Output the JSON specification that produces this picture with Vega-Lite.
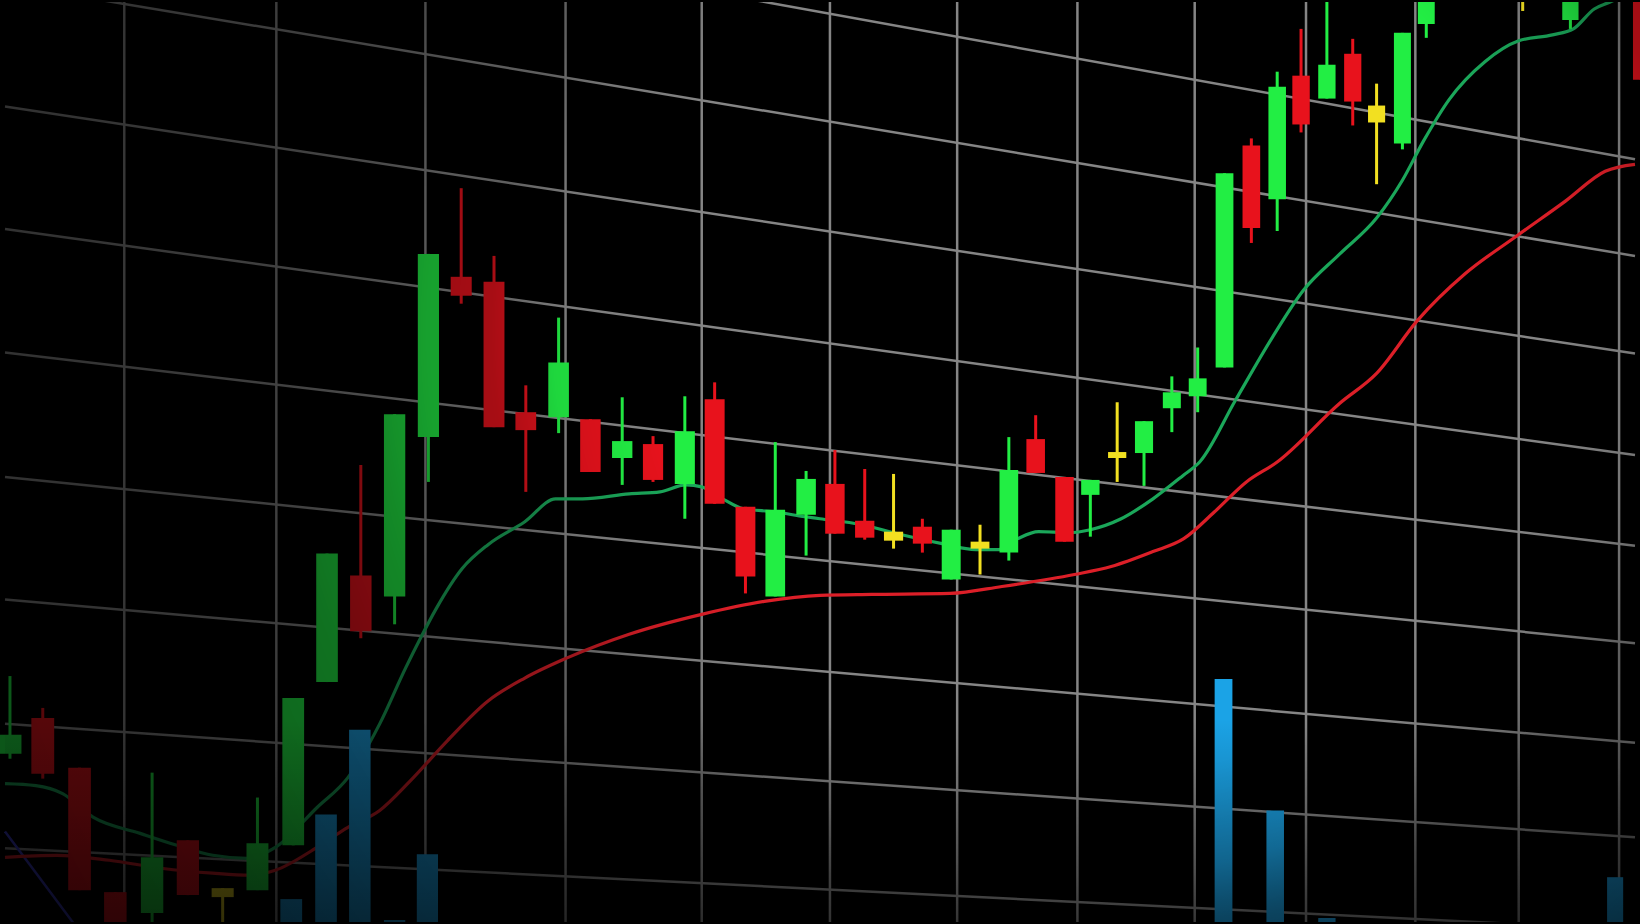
{
  "$schema": "https://vega.github.io/schema/vega-lite/v6.json",
  "width": 1640,
  "height": 924,
  "autosize": {"type": "fit", "contains": "padding"},
  "padding": 0,
  "background": "#000000",
  "config": {"view": {"stroke": null}},
  "datasets": {
    "gridv": [{"x": 120}, {"x": 273}, {"x": 423}, {"x": 564}, {"x": 701}, {"x": 830}, {"x": 958}, {"x": 1079}, {"x": 1197}, {"x": 1309}, {"x": 1419}, {"x": 1523}, {"x": 1624}],
    "gridh": [
      {"x1": 0, "x2": 1640, "y1": 1062, "y2": 766},
      {"x1": 0, "x2": 1640, "y1": 942, "y2": 669},
      {"x1": 0, "x2": 1640, "y1": 819, "y2": 571},
      {"x1": 0, "x2": 1640, "y1": 696, "y2": 469},
      {"x1": 0, "x2": 1640, "y1": 572, "y2": 378},
      {"x1": 0, "x2": 1640, "y1": 447, "y2": 280},
      {"x1": 0, "x2": 1640, "y1": 324, "y2": 180},
      {"x1": 0, "x2": 1640, "y1": 199, "y2": 85},
      {"x1": 0, "x2": 1640, "y1": 74, "y2": -8}
    ],
    "ma": [
      {"s": "fast", "t": 0, "v": 139}, {"s": "fast", "t": 31, "v": 137}, {"s": "fast", "t": 58, "v": 129}, {"s": "fast", "t": 89, "v": 105}, {"s": "fast", "t": 136, "v": 89}, {"s": "fast", "t": 173, "v": 77}, {"s": "fast", "t": 209, "v": 67}, {"s": "fast", "t": 243, "v": 64}, {"s": "fast", "t": 272, "v": 75}, {"s": "fast", "t": 314, "v": 115}, {"s": "fast", "t": 345, "v": 145}, {"s": "fast", "t": 377, "v": 199}, {"s": "fast", "t": 403, "v": 255}, {"s": "fast", "t": 418, "v": 285}, {"s": "fast", "t": 434, "v": 315}, {"s": "fast", "t": 460, "v": 355}, {"s": "fast", "t": 486, "v": 379}, {"s": "fast", "t": 523, "v": 402}, {"s": "fast", "t": 554, "v": 425}, {"s": "fast", "t": 581, "v": 425}, {"s": "fast", "t": 628, "v": 430}, {"s": "fast", "t": 659, "v": 432}, {"s": "fast", "t": 685, "v": 439}, {"s": "fast", "t": 701, "v": 437}, {"s": "fast", "t": 722, "v": 425}, {"s": "fast", "t": 743, "v": 415}, {"s": "fast", "t": 774, "v": 412}, {"s": "fast", "t": 805, "v": 407}, {"s": "fast", "t": 820, "v": 405}, {"s": "fast", "t": 862, "v": 399}, {"s": "fast", "t": 898, "v": 390}, {"s": "fast", "t": 943, "v": 380}, {"s": "fast", "t": 977, "v": 374}, {"s": "fast", "t": 1000, "v": 374}, {"s": "fast", "t": 1019, "v": 385}, {"s": "fast", "t": 1040, "v": 392}, {"s": "fast", "t": 1071, "v": 391}, {"s": "fast", "t": 1092, "v": 394}, {"s": "fast", "t": 1123, "v": 405}, {"s": "fast", "t": 1155, "v": 425}, {"s": "fast", "t": 1186, "v": 449}, {"s": "fast", "t": 1202, "v": 462}, {"s": "fast", "t": 1238, "v": 524}, {"s": "fast", "t": 1275, "v": 587}, {"s": "fast", "t": 1306, "v": 634}, {"s": "fast", "t": 1343, "v": 671}, {"s": "fast", "t": 1380, "v": 707}, {"s": "fast", "t": 1406, "v": 745}, {"s": "fast", "t": 1427, "v": 784}, {"s": "fast", "t": 1453, "v": 826}, {"s": "fast", "t": 1489, "v": 864}, {"s": "fast", "t": 1523, "v": 885}, {"s": "fast", "t": 1557, "v": 891}, {"s": "fast", "t": 1578, "v": 897}, {"s": "fast", "t": 1599, "v": 917}, {"s": "fast", "t": 1615, "v": 924}, {"s": "fast", "t": 1640, "v": 936},
      {"s": "slow", "t": 0, "v": 65}, {"s": "slow", "t": 52, "v": 67}, {"s": "slow", "t": 105, "v": 62}, {"s": "slow", "t": 157, "v": 54}, {"s": "slow", "t": 209, "v": 49}, {"s": "slow", "t": 246, "v": 47}, {"s": "slow", "t": 272, "v": 52}, {"s": "slow", "t": 314, "v": 75}, {"s": "slow", "t": 345, "v": 95}, {"s": "slow", "t": 377, "v": 112}, {"s": "slow", "t": 408, "v": 142}, {"s": "slow", "t": 445, "v": 182}, {"s": "slow", "t": 486, "v": 222}, {"s": "slow", "t": 523, "v": 245}, {"s": "slow", "t": 565, "v": 265}, {"s": "slow", "t": 628, "v": 289}, {"s": "slow", "t": 701, "v": 309}, {"s": "slow", "t": 764, "v": 322}, {"s": "slow", "t": 820, "v": 328}, {"s": "slow", "t": 872, "v": 329}, {"s": "slow", "t": 951, "v": 330}, {"s": "slow", "t": 1003, "v": 337}, {"s": "slow", "t": 1076, "v": 349}, {"s": "slow", "t": 1113, "v": 357}, {"s": "slow", "t": 1155, "v": 372}, {"s": "slow", "t": 1186, "v": 385}, {"s": "slow", "t": 1217, "v": 412}, {"s": "slow", "t": 1249, "v": 442}, {"s": "slow", "t": 1280, "v": 462}, {"s": "slow", "t": 1343, "v": 521}, {"s": "slow", "t": 1380, "v": 551}, {"s": "slow", "t": 1421, "v": 604}, {"s": "slow", "t": 1469, "v": 651}, {"s": "slow", "t": 1521, "v": 689}, {"s": "slow", "t": 1570, "v": 724}, {"s": "slow", "t": 1610, "v": 754}, {"s": "slow", "t": 1640, "v": 761},
      {"s": "aux", "t": 0, "v": 91}, {"s": "aux", "t": 68, "v": 0}, {"s": "aux", "t": 90, "v": -30}
    ],
    "volume": [
      {"t": 288, "vol": 23}, {"t": 323, "vol": 108}, {"t": 357, "vol": 193}, {"t": 392, "vol": 2}, {"t": 425, "vol": 68},
      {"t": 1226, "vol": 244}, {"t": 1278, "vol": 112}, {"t": 1330, "vol": 4}, {"t": 1620, "vol": 45}
    ],
    "candles": [
      {"t": 5, "open": 169, "close": 188, "high": 247, "low": 164, "kind": "up"},
      {"t": 38, "open": 205, "close": 149, "high": 215, "low": 144, "kind": "down"},
      {"t": 75, "open": 155, "close": 32, "high": 155, "low": 32, "kind": "down"},
      {"t": 111, "open": 30, "close": -11, "high": 30, "low": -11, "kind": "down"},
      {"t": 148, "open": 9, "close": 65, "high": 150, "low": -11, "kind": "up"},
      {"t": 184, "open": 82, "close": 27, "high": 82, "low": 27, "kind": "down"},
      {"t": 219, "open": 34, "close": 25, "high": 34, "low": -11, "kind": "doji"},
      {"t": 254, "open": 32, "close": 79, "high": 125, "low": 32, "kind": "up"},
      {"t": 290, "open": 77, "close": 225, "high": 225, "low": 77, "kind": "up"},
      {"t": 324, "open": 241, "close": 370, "high": 370, "low": 241, "kind": "up"},
      {"t": 358, "open": 348, "close": 292, "high": 459, "low": 285, "kind": "down"},
      {"t": 392, "open": 327, "close": 510, "high": 510, "low": 299, "kind": "up"},
      {"t": 426, "open": 487, "close": 671, "high": 671, "low": 442, "kind": "up"},
      {"t": 459, "open": 648, "close": 629, "high": 737, "low": 621, "kind": "down"},
      {"t": 492, "open": 643, "close": 497, "high": 669, "low": 497, "kind": "down"},
      {"t": 524, "open": 512, "close": 494, "high": 539, "low": 432, "kind": "down"},
      {"t": 557, "open": 507, "close": 562, "high": 607, "low": 491, "kind": "up"},
      {"t": 589, "open": 505, "close": 452, "high": 505, "low": 452, "kind": "down"},
      {"t": 621, "open": 466, "close": 483, "high": 527, "low": 439, "kind": "up"},
      {"t": 652, "open": 480, "close": 444, "high": 488, "low": 442, "kind": "down"},
      {"t": 684, "open": 440, "close": 493, "high": 528, "low": 405, "kind": "up"},
      {"t": 714, "open": 525, "close": 420, "high": 542, "low": 420, "kind": "down"},
      {"t": 745, "open": 417, "close": 347, "high": 417, "low": 330, "kind": "down"},
      {"t": 775, "open": 327, "close": 414, "high": 482, "low": 327, "kind": "up"},
      {"t": 806, "open": 409, "close": 445, "high": 453, "low": 368, "kind": "up"},
      {"t": 835, "open": 440, "close": 390, "high": 474, "low": 390, "kind": "down"},
      {"t": 865, "open": 403, "close": 386, "high": 455, "low": 384, "kind": "down"},
      {"t": 894, "open": 392, "close": 383, "high": 450, "low": 375, "kind": "doji"},
      {"t": 923, "open": 397, "close": 380, "high": 405, "low": 371, "kind": "down"},
      {"t": 952, "open": 344, "close": 394, "high": 394, "low": 344, "kind": "up"},
      {"t": 981, "open": 382, "close": 375, "high": 399, "low": 349, "kind": "doji"},
      {"t": 1010, "open": 371, "close": 454, "high": 487, "low": 363, "kind": "up"},
      {"t": 1037, "open": 485, "close": 451, "high": 509, "low": 451, "kind": "down"},
      {"t": 1066, "open": 447, "close": 382, "high": 447, "low": 382, "kind": "down"},
      {"t": 1092, "open": 429, "close": 444, "high": 444, "low": 387, "kind": "up"},
      {"t": 1119, "open": 472, "close": 466, "high": 522, "low": 442, "kind": "doji"},
      {"t": 1146, "open": 471, "close": 503, "high": 503, "low": 438, "kind": "up"},
      {"t": 1174, "open": 516, "close": 532, "high": 548, "low": 492, "kind": "up"},
      {"t": 1200, "open": 528, "close": 546, "high": 577, "low": 512, "kind": "up"},
      {"t": 1227, "open": 557, "close": 752, "high": 752, "low": 557, "kind": "up"},
      {"t": 1254, "open": 780, "close": 697, "high": 787, "low": 682, "kind": "down"},
      {"t": 1280, "open": 726, "close": 839, "high": 854, "low": 694, "kind": "up"},
      {"t": 1304, "open": 850, "close": 801, "high": 897, "low": 793, "kind": "down"},
      {"t": 1330, "open": 827, "close": 861, "high": 934, "low": 827, "kind": "up"},
      {"t": 1356, "open": 872, "close": 824, "high": 887, "low": 800, "kind": "down"},
      {"t": 1380, "open": 820, "close": 803, "high": 842, "low": 741, "kind": "doji"},
      {"t": 1406, "open": 782, "close": 893, "high": 893, "low": 776, "kind": "up"},
      {"t": 1430, "open": 902, "close": 954, "high": 954, "low": 888, "kind": "up"},
      {"t": 1527, "open": 964, "close": 954, "high": 974, "low": 915, "kind": "doji"},
      {"t": 1575, "open": 906, "close": 964, "high": 964, "low": 897, "kind": "up"},
      {"t": 1646, "open": 954, "close": 846, "high": 960, "low": 846, "kind": "down"}
    ],
    "frame": [{"x0": -40, "x1": 1680, "y0": 0, "y1": 924}],
    "frame2": [{"x0": 0, "x1": 1640, "y0": 0, "y1": 924}]
  },
  "layer": [
    {
      "data": {"name": "gridv"},
      "mark": {"type": "rule", "color": "#858585", "strokeWidth": 2.5},
      "encoding": {
        "x": {"field": "x", "type": "quantitative", "scale": {"domain": [0, 1640], "nice": false, "zero": false}, "axis": null}
      }
    },
    {
      "data": {"name": "gridh"},
      "mark": {"type": "rule", "color": "#858585", "strokeWidth": 2.5, "clip": true},
      "encoding": {
        "x": {"field": "x1", "type": "quantitative", "scale": {"domain": [0, 1640], "nice": false, "zero": false}, "axis": null},
        "x2": {"field": "x2"},
        "y": {"field": "y1", "type": "quantitative", "scale": {"domain": [0, 924], "nice": false, "zero": false}, "axis": null},
        "y2": {"field": "y2"}
      }
    },
    {
      "data": {"name": "ma"},
      "transform": [{"filter": "datum.s === 'aux'"}],
      "mark": {"type": "line", "color": "#3a3ac8", "strokeWidth": 2.5, "clip": true},
      "encoding": {
        "x": {"field": "t", "type": "quantitative", "axis": null},
        "y": {"field": "v", "type": "quantitative", "axis": null}
      }
    },
    {
      "data": {"name": "ma"},
      "transform": [{"filter": "datum.s === 'slow'"}],
      "mark": {"type": "line", "color": "#dc1f28", "strokeWidth": 3.2, "interpolate": "monotone", "clip": true},
      "encoding": {
        "x": {"field": "t", "type": "quantitative", "axis": null},
        "y": {"field": "v", "type": "quantitative", "axis": null}
      }
    },
    {
      "data": {"name": "ma"},
      "transform": [{"filter": "datum.s === 'fast'"}],
      "mark": {"type": "line", "color": "#1ba75a", "strokeWidth": 3.2, "interpolate": "monotone", "clip": true},
      "encoding": {
        "x": {"field": "t", "type": "quantitative", "axis": null},
        "y": {"field": "v", "type": "quantitative", "axis": null}
      }
    },
    {
      "data": {"name": "volume"},
      "mark": {"type": "bar", "color": "#1ba3e6", "clip": true},
      "encoding": {
        "x": {"field": "t", "type": "quantitative", "axis": null},
        "y": {"field": "vol", "type": "quantitative", "axis": null},
        "size": {"field": "t", "type": "quantitative", "scale": {"domain": [0, 1640], "range": [23, 16]}, "legend": null}
      }
    },
    {
      "data": {"name": "candles"},
      "mark": {"type": "rule", "strokeWidth": 3, "clip": true},
      "encoding": {
        "x": {"field": "t", "type": "quantitative", "axis": null},
        "y": {"field": "low", "type": "quantitative", "axis": null},
        "y2": {"field": "high"},
        "color": {"field": "kind", "type": "nominal", "scale": {"domain": ["up", "down", "doji"], "range": ["#22ee44", "#e8121c", "#f2e021"]}, "legend": null}
      }
    },
    {
      "data": {"name": "candles"},
      "mark": {"type": "bar", "clip": true},
      "encoding": {
        "x": {"field": "t", "type": "quantitative", "axis": null},
        "y": {"field": "open", "type": "quantitative", "axis": null},
        "y2": {"field": "close"},
        "size": {"field": "t", "type": "quantitative", "scale": {"domain": [0, 1640], "range": [23, 16]}, "legend": null},
        "color": {"field": "kind", "type": "nominal", "legend": null}
      }
    },
    {
      "data": {"name": "frame"},
      "mark": {
        "type": "rect",
        "clip": true,
        "fill": {
          "gradient": "radial",
          "x1": 0.6628, "y1": 0.4233, "r1": 0,
          "x2": 0.6628, "y2": 0.4233, "r2": 1,
          "stops": [
            {"offset": 0, "color": "rgba(0,0,0,0)"},
            {"offset": 0.261, "color": "rgba(0,0,0,0)"},
            {"offset": 0.319, "color": "rgba(0,0,0,0.1)"},
            {"offset": 0.355, "color": "rgba(0,0,0,0.28)"},
            {"offset": 0.393, "color": "rgba(0,0,0,0.33)"},
            {"offset": 0.424, "color": "rgba(0,0,0,0.42)"},
            {"offset": 0.482, "color": "rgba(0,0,0,0.52)"},
            {"offset": 0.535, "color": "rgba(0,0,0,0.56)"},
            {"offset": 0.599, "color": "rgba(0,0,0,0.61)"},
            {"offset": 0.68, "color": "rgba(0,0,0,0.64)"},
            {"offset": 1, "color": "rgba(0,0,0,0.7)"}
          ]
        }
      },
      "encoding": {
        "x": {"field": "x0", "type": "quantitative", "axis": null},
        "x2": {"field": "x1"},
        "y": {"field": "y0", "type": "quantitative", "axis": null},
        "y2": {"field": "y1"}
      }
    },
    {
      "data": {"name": "frame2"},
      "mark": {
        "type": "rect",
        "fill": {
          "gradient": "linear",
          "x1": 0, "y1": 0, "x2": 0, "y2": 1,
          "stops": [
            {"offset": 0, "color": "rgba(0,0,0,0)"},
            {"offset": 0.78, "color": "rgba(0,0,0,0)"},
            {"offset": 1, "color": "rgba(0,0,0,0.45)"}
          ]
        }
      },
      "encoding": {
        "x": {"field": "x0", "type": "quantitative", "axis": null},
        "x2": {"field": "x1"},
        "y": {"field": "y0", "type": "quantitative", "axis": null},
        "y2": {"field": "y1"}
      }
    }
  ]
}
